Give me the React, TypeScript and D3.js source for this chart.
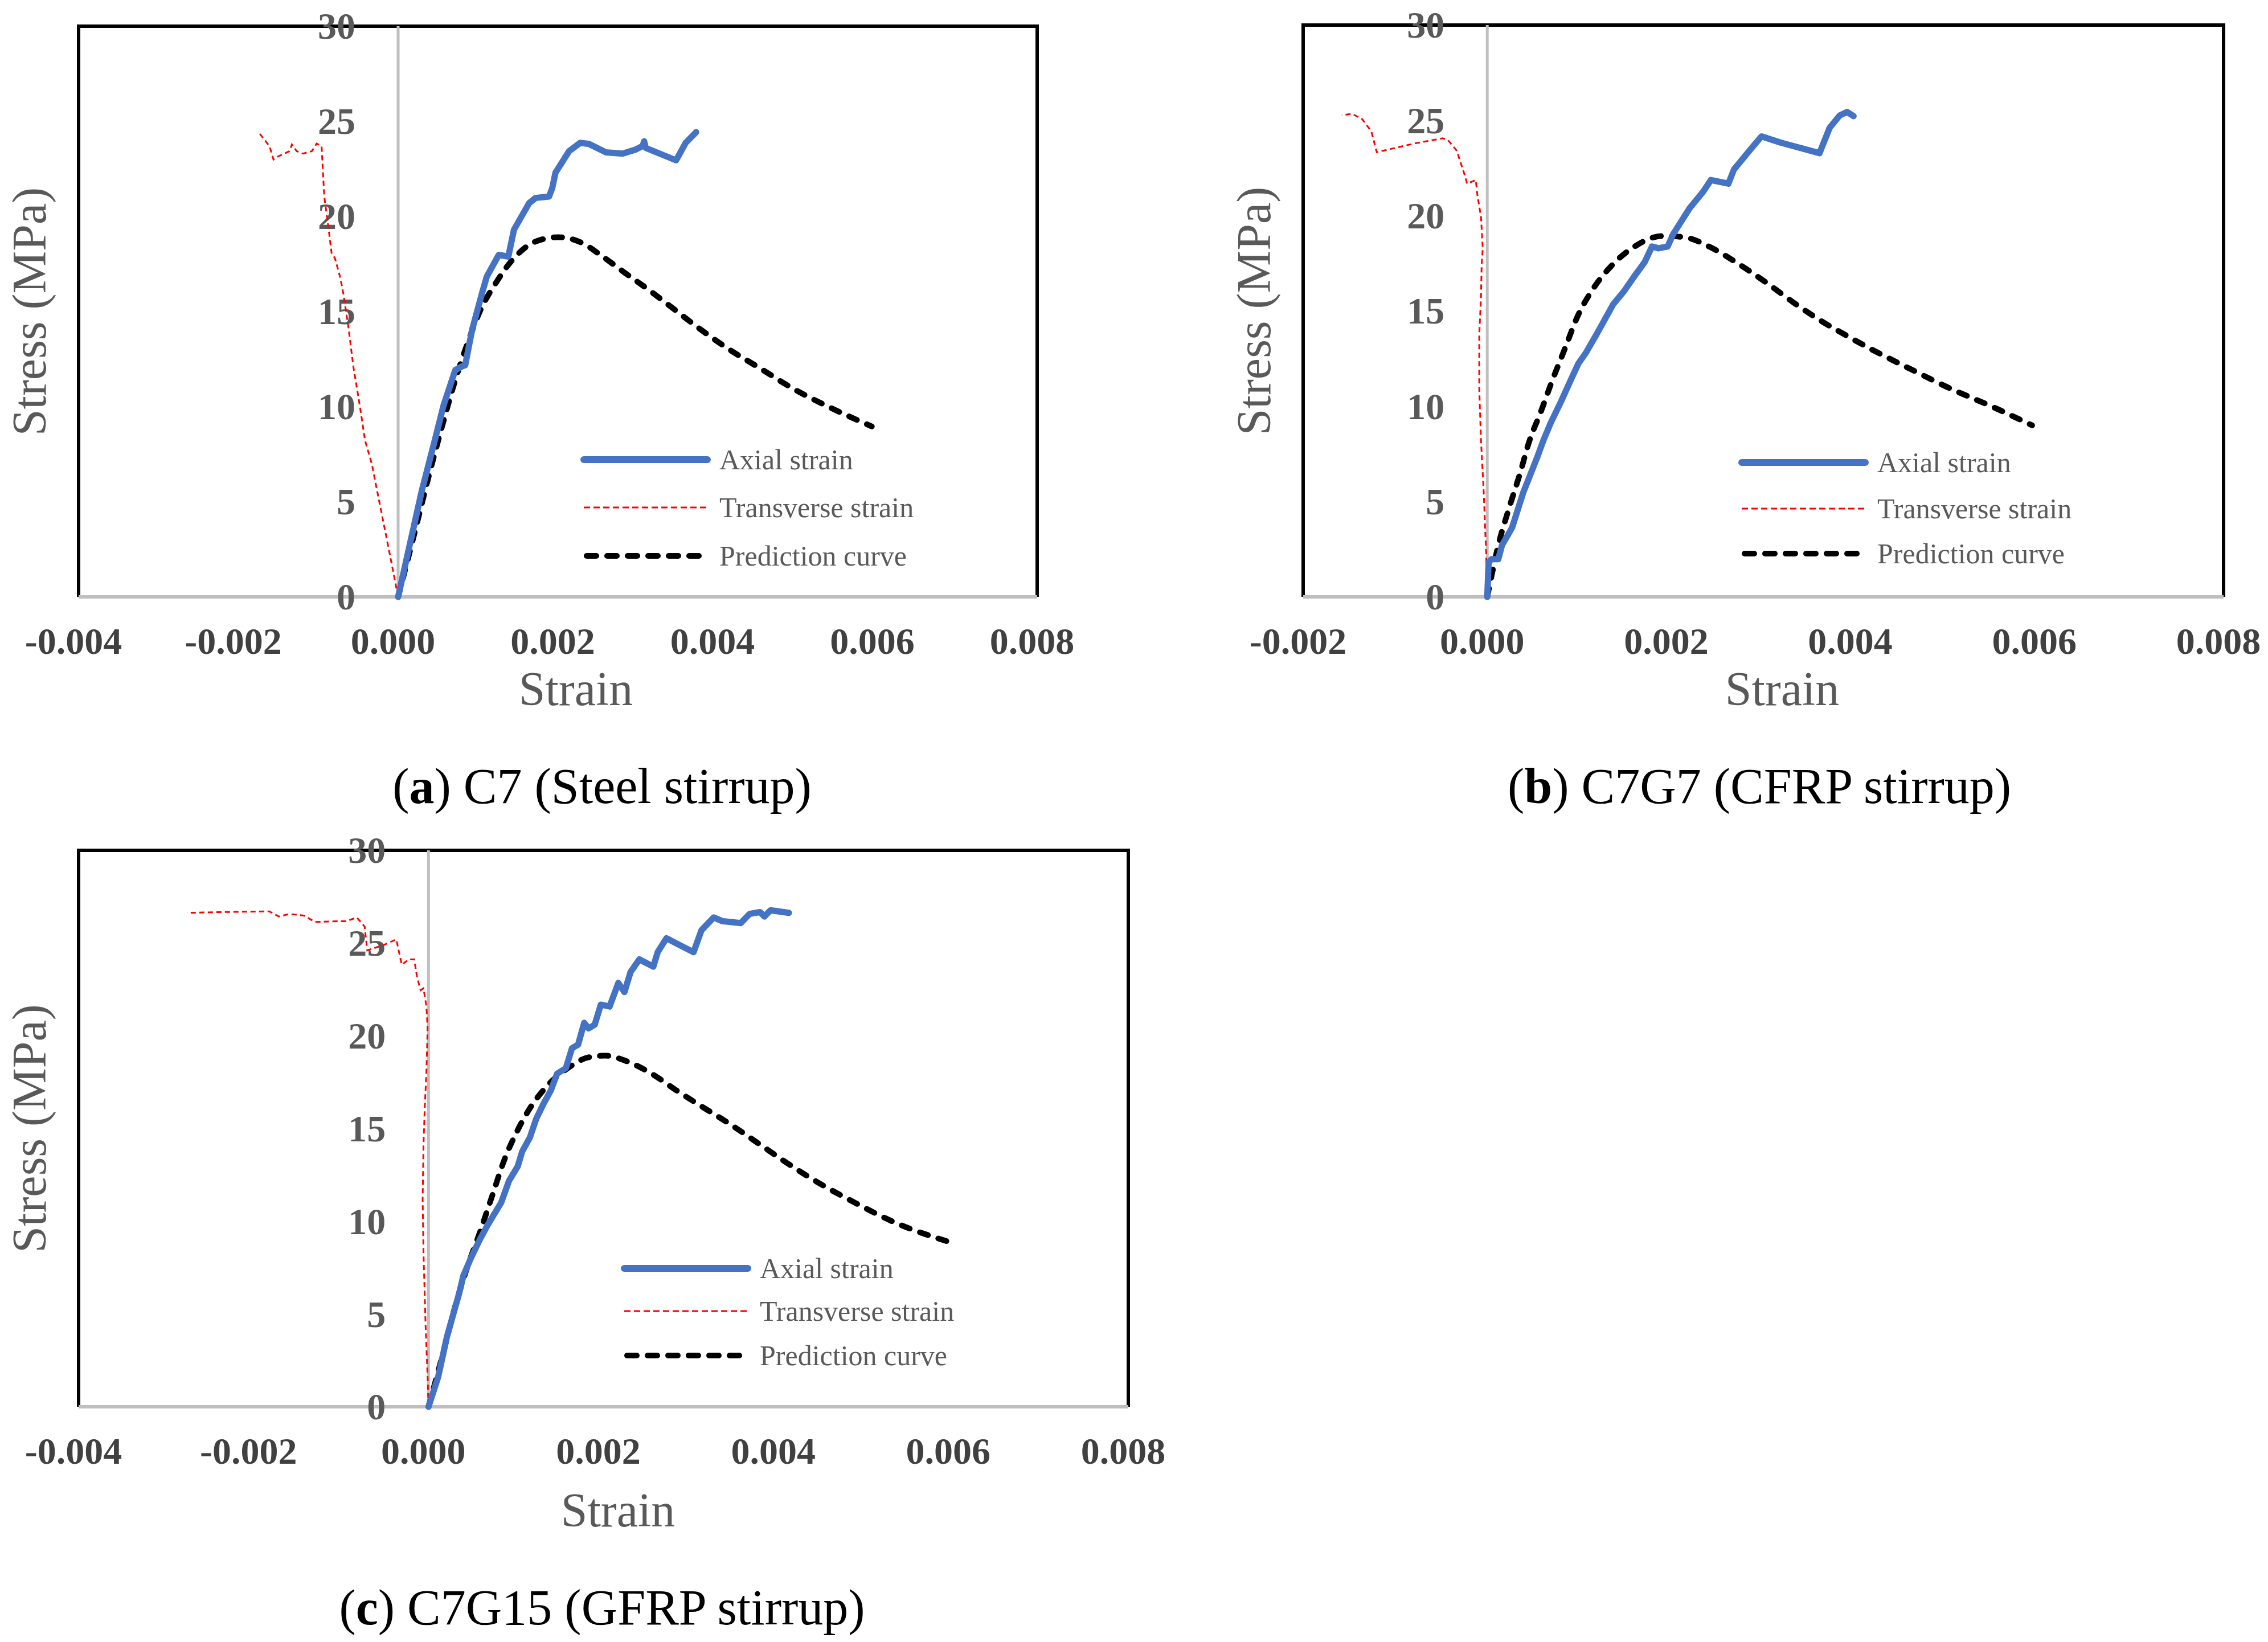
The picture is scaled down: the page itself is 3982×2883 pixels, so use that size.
import * as d3 from 'd3'

type Pt = [number, number]

const xTicksWide = [-0.004, -0.002, 0, 0.002, 0.004, 0.006, 0.008]
const xTicksNarrow = [-0.002, 0, 0.002, 0.004, 0.006, 0.008]
const yTicks = [0, 5, 10, 15, 20, 25, 30]
const seriesNames = ['Axial strain', 'Transverse strain', 'Prediction curve']

// (a) C7 - steel stirrup
const c7Axial: Pt[] = [
  [0, 0], [0.000297, 5.59], [0.000464, 8.31], [0.000569, 10.07], [0.000715, 11.92],
  [0.00079, 12.1], [0.00084, 12.18], [0.000925, 14.02], [0.00105, 15.96], [0.00111, 16.84],
  [0.00126, 17.98], [0.00138, 17.89], [0.00145, 19.3], [0.00164, 20.7], [0.00172, 20.97],
  [0.00189, 21.05], [0.00193, 21.5], [0.00197, 22.3], [0.00214, 23.43], [0.00228, 23.87],
  [0.00239, 23.81], [0.0026, 23.37], [0.00281, 23.3], [0.00297, 23.51], [0.00306, 23.7],
  [0.00308, 23.95], [0.0031, 23.6], [0.00348, 22.95], [0.0036, 23.87], [0.00373, 24.43]
]
const c7Transverse: Pt[] = [
  [0, 0], [-0.000121, 2.6], [-0.000247, 5.24], [-0.00033, 7.0], [-0.000414, 8.22],
  [-0.000477, 9.98], [-0.00056, 12.09], [-0.000623, 14.2], [-0.000686, 15.96], [-0.000728, 16.84],
  [-0.000791, 17.8], [-0.000833, 18.07], [-0.000874, 19.47], [-0.000925, 21.05], [-0.000958, 23.69],
  [-0.00102, 23.83], [-0.00108, 23.43], [-0.00119, 23.3], [-0.00127, 23.43], [-0.00133, 23.78],
  [-0.00136, 23.43], [-0.0015, 23.16], [-0.00156, 22.99], [-0.00161, 23.69], [-0.00174, 24.39]
]
const c7Prediction: Pt[] = [
  [0, 0], [0.000213, 3.48], [0.00038, 6.29], [0.000548, 8.93], [0.000715, 11.39],
  [0.000883, 13.5], [0.00105, 15.25], [0.00122, 16.48], [0.00143, 17.71], [0.00172, 18.68],
  [0.00201, 18.91], [0.00231, 18.59], [0.00256, 17.89], [0.00285, 17.0], [0.00314, 16.13],
  [0.00344, 15.17], [0.00377, 14.11], [0.0041, 13.13], [0.00453, 12.02], [0.00496, 10.91],
  [0.00539, 9.99], [0.00593, 8.96]
]

// (b) C7G7 - CFRP stirrup
const c7g7Axial: Pt[] = [
  [0, 0], [0.000015, 1.8], [0.000045, 1.98], [0.00012, 1.98], [0.00016, 2.71],
  [0.00027, 3.63], [0.00039, 5.46], [0.00054, 7.29], [0.00061, 8.21], [0.00069, 9.13],
  [0.0008, 10.23], [0.00092, 11.51], [0.00099, 12.24], [0.00107, 12.79], [0.00118, 13.71],
  [0.00137, 15.36], [0.00148, 16.0], [0.0016, 16.83], [0.00171, 17.56], [0.00179, 18.38],
  [0.00186, 18.29], [0.00196, 18.38], [0.00202, 19.03], [0.0022, 20.4], [0.00234, 21.22],
  [0.00243, 21.87], [0.00262, 21.68], [0.00268, 22.42], [0.00285, 23.42], [0.00298, 24.16],
  [0.00319, 23.83], [0.00361, 23.28], [0.00372, 24.61], [0.00383, 25.26], [0.00391, 25.44],
  [0.00398, 25.22]
]
const c7g7Transverse: Pt[] = [
  [0, 0], [-0.000011, 2.16], [-0.000038, 5.46], [-0.000068, 8.21], [-0.000087, 10.96],
  [-0.000087, 13.71], [-0.000068, 15.73], [-0.000061, 17.37], [-0.000049, 18.29], [-0.000068, 19.94],
  [-0.000106, 21.04], [-0.000125, 21.87], [-0.00022, 21.68], [-0.000239, 22.05], [-0.000295, 22.87],
  [-0.000333, 23.42], [-0.000428, 23.97], [-0.000485, 24.06], [-0.000788, 23.79], [-0.0012, 23.33],
  [-0.00126, 24.43], [-0.00136, 25.07], [-0.00147, 25.35], [-0.00158, 25.26]
]
const c7g7Prediction: Pt[] = [
  [0, 0], [0.000045, 1.06], [0.00012, 2.71], [0.00023, 4.55], [0.00035, 6.38],
  [0.00046, 8.21], [0.00058, 9.68], [0.00069, 11.14], [0.00084, 12.98], [0.00099, 14.81],
  [0.00114, 16.09], [0.00137, 17.47], [0.0016, 18.38], [0.0019, 18.93], [0.00213, 18.88],
  [0.00243, 18.33], [0.00273, 17.47], [0.00304, 16.46], [0.00334, 15.4], [0.00364, 14.44],
  [0.00387, 13.8], [0.00417, 13.0], [0.0046, 11.95], [0.005, 11.0], [0.0055, 9.95],
  [0.00592, 9.0]
]

// (c) C7G15 - GFRP stirrup
const c7g15Axial: Pt[] = [
  [0, 0], [0.00011, 1.6], [0.00021, 3.76], [0.00035, 6.11], [0.0004, 7.09],
  [0.00049, 8.07], [0.00059, 9.05], [0.00068, 9.83], [0.00083, 11.0], [0.00092, 12.18],
  [0.00102, 12.96], [0.00107, 13.75], [0.00116, 14.53], [0.00123, 15.51], [0.00131, 16.29],
  [0.0014, 17.07], [0.00147, 17.96], [0.00157, 18.25], [0.00164, 19.33], [0.00171, 19.52],
  [0.00178, 20.7], [0.00183, 20.4], [0.0019, 20.6], [0.00197, 21.68], [0.00207, 21.58],
  [0.00217, 22.85], [0.00224, 22.36], [0.00231, 23.44], [0.00241, 24.12], [0.00257, 23.73],
  [0.00262, 24.51], [0.00272, 25.26], [0.00303, 24.51], [0.00312, 25.69], [0.00326, 26.38],
  [0.00336, 26.18], [0.00357, 26.08], [0.00367, 26.57], [0.00379, 26.67], [0.00384, 26.43],
  [0.00391, 26.77], [0.00412, 26.63]
]
const c7g15Transverse: Pt[] = [
  [0, 0], [-0.00001, 1.6], [-0.000033, 4.35], [-0.000057, 8.26], [-0.000067, 11.2],
  [-0.000057, 14.14], [-0.000043, 16.1], [-0.000024, 18.05], [-0.00001, 20.4], [-0.000024, 21.58],
  [-0.000057, 22.56], [-0.00009, 22.46], [-0.00013, 23.14], [-0.000163, 24.12], [-0.000225, 24.12],
  [-0.000306, 23.83], [-0.000368, 25.2], [-0.00051, 24.9], [-0.0007, 24.61], [-0.00073, 25.89],
  [-0.00082, 26.38], [-0.00094, 26.18], [-0.00104, 26.18], [-0.0013, 26.14], [-0.00142, 26.48],
  [-0.00159, 26.57], [-0.00171, 26.43], [-0.00182, 26.71], [-0.00238, 26.67], [-0.00276, 26.63]
]
const c7g15Prediction: Pt[] = [
  [0, 0], [0.00016, 2.78], [0.0003, 5.33], [0.00044, 7.48], [0.00059, 9.44],
  [0.00073, 11.4], [0.00087, 13.35], [0.00102, 14.92], [0.00116, 16.1], [0.00135, 17.27],
  [0.00159, 18.25], [0.00183, 18.84], [0.00202, 18.93], [0.00226, 18.64], [0.00255, 17.96],
  [0.00283, 17.07], [0.00312, 16.2], [0.00346, 15.2], [0.00379, 14.14], [0.00408, 13.2],
  [0.00445, 12.1], [0.00488, 10.99], [0.0053, 10.0], [0.00601, 8.8]
]

const FONT = "'Liberation Serif', 'Times New Roman', serif"
const AXIAL = '#4472C4'
const GRID = '#BFBFBF'

type PanelSpec = {
  letter: string
  label: string
  left: number
  right: number
  top: number
  bottom: number
  xDomain: [number, number]
  xTicks: number[]
  axial: Pt[]
  transverse: Pt[]
  prediction: Pt[]
  legendX: number
  legendY: number[]
  titleX: number
  titleY: number
  captionX: number
  captionY: number
}

const panels: PanelSpec[] = [
  {
    letter: 'a', label: ' C7 (Steel stirrup)',
    left: 138, right: 1821, top: 46, bottom: 1048,
    xDomain: [-0.004, 0.008], xTicks: xTicksWide,
    axial: c7Axial, transverse: c7Transverse, prediction: c7Prediction,
    legendX: 1025, legendY: [807, 891, 976],
    titleX: 1011, titleY: 1238, captionX: 1057, captionY: 1410
  },
  {
    letter: 'b', label: ' C7G7 (CFRP stirrup)',
    left: 2288, right: 3904, top: 44, bottom: 1048,
    xDomain: [-0.002, 0.008], xTicks: xTicksNarrow,
    axial: c7g7Axial, transverse: c7g7Transverse, prediction: c7g7Prediction,
    legendX: 3058, legendY: [812, 893, 972],
    titleX: 3129, titleY: 1238, captionX: 3089, captionY: 1410
  },
  {
    letter: 'c', label: ' C7G15 (GFRP stirrup)',
    left: 138, right: 1981, top: 1493, bottom: 2470,
    xDomain: [-0.004, 0.008], xTicks: xTicksWide,
    axial: c7g15Axial, transverse: c7g15Transverse, prediction: c7g15Prediction,
    legendX: 1096, legendY: [2227, 2302, 2380],
    titleX: 1085, titleY: 2680, captionX: 1057, captionY: 2852
  }
]

// excel style: plain hyphen for negatives
const fmtTick = (v: number) => d3.format('.3f')(v).replace('\u2212', '-')

function Panel({ p }: { p: PanelSpec }) {
  const x = d3.scaleLinear().domain(p.xDomain).range([p.left, p.right])
  const y = d3.scaleLinear().domain([0, 30]).range([p.bottom, p.top])
  const line = d3.line<Pt>().x(d => x(d[0])).y(d => y(d[1]))
  const smooth = d3.line<Pt>().x(d => x(d[0])).y(d => y(d[1])).curve(d3.curveMonotoneX)
  const x0 = x(0)
  const legendLen = 217

  return (
    <g>
      {/* frame */}
      <path
        d={`M${p.left},${p.bottom} V${p.top} H${p.right} V${p.bottom}`}
        fill="none" stroke="#000" strokeWidth={6}
      />
      {/* zero axes */}
      <line x1={x0} x2={x0} y1={p.top} y2={p.bottom} stroke={GRID} strokeWidth={5} />
      <line x1={p.left} x2={p.right} y1={p.bottom} y2={p.bottom} stroke={GRID} strokeWidth={6} />

      {yTicks.map(t => (
        <text key={t} x={x0 - 75} y={y(t)} dy="0.34em" textAnchor="end"
          fontFamily={FONT} fontWeight="bold" fontSize={66} fill="#595959">{t}</text>
      ))}
      {p.xTicks.map(t => (
        <text key={t} x={x(t) - 9} y={p.bottom + 100} textAnchor="middle"
          fontFamily={FONT} fontWeight="bold" fontSize={66} fill="#404040">{fmtTick(t)}</text>
      ))}

      <path d={line(p.transverse) ?? ''} fill="none" stroke="#FF0000" strokeWidth={3}
        strokeDasharray="9,6" />
      <path d={smooth(p.prediction) ?? ''} fill="none" stroke="#000" strokeWidth={10}
        strokeDasharray="15,19" strokeLinecap="round" />
      <path d={line(p.axial) ?? ''} fill="none" stroke={AXIAL} strokeWidth={11}
        strokeLinejoin="round" strokeLinecap="round" />

      {/* legend */}
      <line x1={p.legendX} x2={p.legendX + legendLen} y1={p.legendY[0]} y2={p.legendY[0]}
        stroke={AXIAL} strokeWidth={12} strokeLinecap="round" />
      <line x1={p.legendX} x2={p.legendX + legendLen} y1={p.legendY[1]} y2={p.legendY[1]}
        stroke="#FF0000" strokeWidth={3} strokeDasharray="11,6" />
      <line x1={p.legendX + 5} x2={p.legendX + legendLen} y1={p.legendY[2]} y2={p.legendY[2]}
        stroke="#000" strokeWidth={10} strokeDasharray="17,19" strokeLinecap="round" />
      {seriesNames.map((s, i) => (
        <text key={s} x={p.legendX + legendLen + 21} y={p.legendY[i]} dy="0.33em"
          fontFamily={FONT} fontSize={50} fill="#595959">{s}</text>
      ))}

      <text x={p.titleX} y={p.titleY} textAnchor="middle" fontFamily={FONT}
        fontSize={84} fill="#595959">Strain</text>
      <text transform={`translate(${p.left - 58},${(p.top + p.bottom) / 2}) rotate(-90)`}
        textAnchor="middle" fontFamily={FONT} fontSize={84} fill="#595959">Stress (MPa)</text>

      <text x={p.captionX} y={p.captionY} textAnchor="middle" fontFamily={FONT}
        fontSize={88} fill="#000">
        (<tspan fontWeight="bold">{p.letter}</tspan>){p.label}
      </text>
    </g>
  )
}

export default function App() {
  return (
    <svg width={3982} height={2883} viewBox="0 0 3982 2883"
      style={{ position: 'absolute', left: 0, top: 0, background: '#fff' }}>
      <rect width={3982} height={2883} fill="#fff" />
      {panels.map(p => <Panel key={p.letter} p={p} />)}
    </svg>
  )
}
